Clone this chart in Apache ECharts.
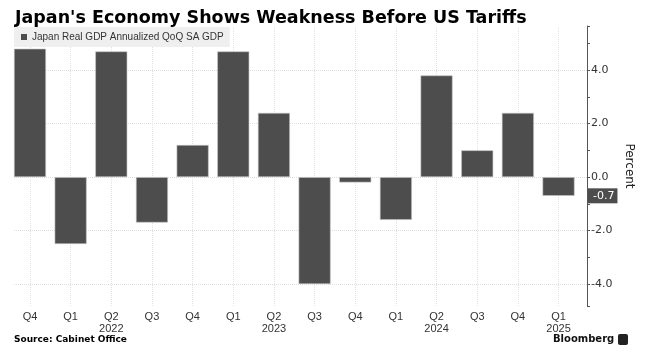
<!DOCTYPE html>
<html>
<head>
<meta charset="utf-8">
<script src="https://cdn.jsdelivr.net/npm/echarts@6/dist/echarts.min.js"></script>
<style>
  html, body { margin: 0; padding: 0; background: #fff; }
  #chart { width: 656px; height: 354px; }
</style>
</head>
<body>
<div id="chart"></div>
<script>
// quarters, Q4 2021 .. Q1 2025
const categories = ['Q4 2021', 'Q1 2022', 'Q2 2022', 'Q3 2022', 'Q4 2022', 'Q1 2023', 'Q2 2023',
  'Q3 2023', 'Q4 2023', 'Q1 2024', 'Q2 2024', 'Q3 2024', 'Q4 2024', 'Q1 2025']
const tickLabels = ['Q4', 'Q1', 'Q2\n2022', 'Q3', 'Q4', 'Q1', 'Q2\n2023',
  'Q3', 'Q4', 'Q1', 'Q2\n2024', 'Q3', 'Q4', 'Q1\n2025']
// annualized QoQ, percent
const gdpValues = [4.8, -2.5, 4.7, -1.7, 1.2, 4.7, 2.4, -4.0, -0.2, -1.6, 3.8, 1.0, 2.4, -0.7]

const seriesName = 'Japan Real GDP Annualized QoQ SA GDP'
const barColor = '#4d4d4d'
const lastValue = gdpValues[gdpValues.length - 1]

const chart = echarts.init(document.getElementById('chart'))

const option = {
  animation: false,
  title: {
    text: "Japan's Economy Shows Weakness Before US Tariffs",
    left: 10,
    top: 4,
    textStyle: {
      fontFamily: 'DejaVu Sans',
      fontWeight: 'bold',
      fontSize: 17.5,
      color: '#000'
    }
  },
  legend: {
    data: [seriesName],
    left: 14,
    top: 27,
    padding: [5, 6, 5, 7],
    backgroundColor: '#efefef',
    icon: 'rect',
    itemWidth: 6,
    itemHeight: 6,
    selectedMode: false,
    itemStyle: { borderWidth: 0 },
    textStyle: {
      fontFamily: 'Liberation Sans',
      fontSize: 10,
      color: '#333'
    }
  },
  grid: {
    left: 14,
    right: 69,
    top: 26,
    bottom: 48,
    containLabel: false
  },
  xAxis: {
    type: 'value',
    // first bar sits on the left edge, some room on the right before the axis
    min: -0.393,
    max: 13.7,
    axisLine: { show: false, onZero: false },
    splitLine: { show: false },
    axisTick: {
      show: true,
      inside: true,
      length: 280,
      customValues: categories.map((c, i) => i),
      lineStyle: { color: '#e2e2e2', type: 'dotted', width: 1 }
    },
    axisLabel: {
      customValues: categories.map((c, i) => i),
      formatter: v => tickLabels[Math.round(v)],
      fontFamily: 'Liberation Sans',
      fontSize: 11,
      lineHeight: 12,
      color: '#333',
      margin: 5
    }
  },
  yAxis: {
    type: 'value',
    position: 'right',
    min: -4.82,
    max: 5.65,
    splitNumber: 5,
    name: 'Percent',
    nameLocation: 'middle',
    nameRotate: -90,
    nameGap: 32,
    nameTextStyle: {
      fontFamily: 'DejaVu Sans',
      fontSize: 12,
      color: '#222'
    },
    axisLine: { show: true, onZero: false, lineStyle: { color: '#555', width: 1 } },
    axisTick: { show: true, length: 3, lineStyle: { color: '#555' } },
    minorTick: { show: true, splitNumber: 2, length: 3, lineStyle: { color: '#555' } },
    splitLine: {
      show: true,
      showMinLine: false,
      showMaxLine: false,
      lineStyle: { color: '#dedede', type: 'dotted' }
    },
    axisLabel: {
      showMinLabel: false,
      showMaxLabel: false,
      formatter: v => v.toFixed(1),
      fontFamily: 'DejaVu Sans',
      fontSize: 11,
      color: '#333',
      margin: 4
    },
    axisPointer: {
      show: true,
      status: 'show',
      value: lastValue,
      triggerTooltip: false,
      lineStyle: { opacity: 0 },
      label: {
        show: true,
        formatter: p => Number(p.value).toFixed(1),
        backgroundColor: '#4d4d4d',
        color: '#fff',
        fontFamily: 'DejaVu Sans',
        fontSize: 11,
        padding: [2, 3, 2, 5],
        margin: 1,
        borderRadius: 0
      }
    }
  },
  series: [
    {
      name: seriesName,
      type: 'bar',
      barWidth: 32,
      data: gdpValues.map((v, i) => [i, v]),
      itemStyle: {
        color: barColor,
        borderColor: '#c4c4c4',
        borderWidth: 0.6
      }
    }
  ],
  graphic: [
    {
      type: 'text',
      left: 14,
      top: 335,
      style: {
        text: 'Source: Cabinet Office',
        fontFamily: 'DejaVu Sans',
        fontWeight: 'bold',
        fontSize: 9,
        fill: '#000'
      }
    },
    {
      type: 'text',
      left: 553,
      top: 334,
      style: {
        text: 'Bloomberg',
        fontFamily: 'DejaVu Sans',
        fontWeight: 'bold',
        fontSize: 10,
        fill: '#111'
      }
    },
    {
      type: 'rect',
      left: 618,
      top: 334,
      shape: { width: 10, height: 11, r: 2 },
      style: { fill: '#222' }
    }
  ]
}

chart.setOption(option)
</script>
</body>
</html>
